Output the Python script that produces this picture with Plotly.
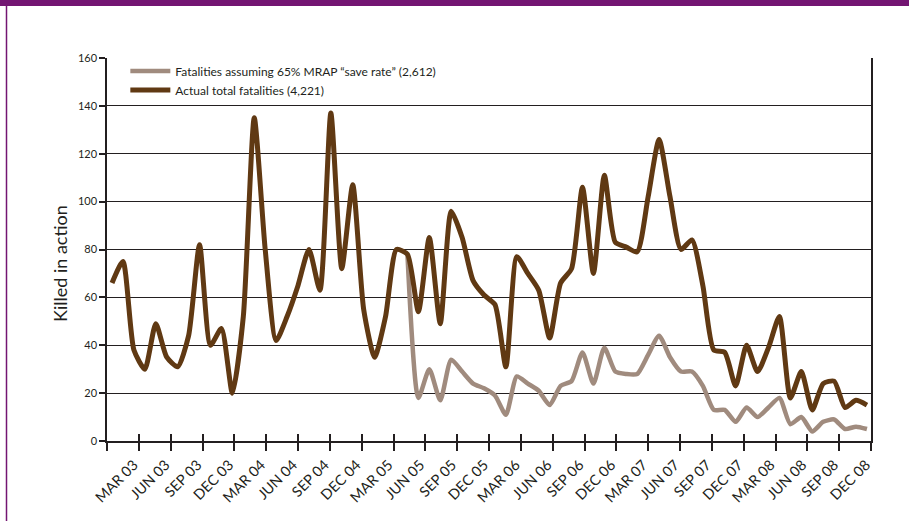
import numpy as np
import plotly.graph_objects as go

# ---- data (monthly, Mar 2003 - Dec 2008) ----
years = ["03", "04", "05", "06", "07", "08"]
month_names = ["JAN", "FEB", "MAR", "APR", "MAY", "JUN", "JUL", "AUG", "SEP", "OCT", "NOV", "DEC"]
months = [f"{m} {y}" for y in years for m in month_names][2:]  # MAR 03 .. DEC 08

actual = [
    66, 75, 38, 30, 49, 35, 31, 44, 82, 40,                    # 2003 Mar-Dec
    47, 20, 52, 135, 80, 42, 52, 65, 80, 63, 137, 72,          # 2004
    107, 55, 35, 52, 80, 78, 54, 85, 49, 96, 85, 67,           # 2005
    61, 57, 31, 77, 70, 63, 43, 66, 72, 106, 70, 111,          # 2006
    83, 81, 79, 102, 126, 102, 80, 84, 65, 38, 37, 23,         # 2007
    40, 29, 39, 52, 18, 29, 13, 24, 25, 14, 17, 15,            # 2008
]
mrap = [None] * 27 + [
    78, 18, 30, 17, 34, 29, 24,                                # 2005 Jun-Dec
    22, 19, 11, 27, 24, 21, 15, 23, 25, 37, 24, 39,            # 2006
    29, 28, 28, 36, 44, 35, 29, 29, 23, 13, 13, 8,             # 2007
    14, 10, 14, 18, 7, 10, 4, 8, 9, 5, 6, 5,                   # 2008
]
tick_labels = ["", "MAR 03", "JUN 03", "SEP 03", "DEC 03", "MAR 04", "JUN 04", "SEP 04", "DEC 04",
               "MAR 05", "JUN 05", "SEP 05", "DEC 05", "MAR 06", "JUN 06", "SEP 06", "DEC 06",
               "MAR 07", "JUN 07", "SEP 07", "DEC 07", "MAR 08", "JUN 08", "SEP 08", "DEC 08"]
name_mrap = "Fatalities assuming 65% MRAP \u201csave rate\u201d (2,612)"
name_actual = "Actual total fatalities (4,221)"
y_title = "Killed in action"

x = list(range(len(months)))
x_range = [-0.46, 69.37]
tick_vals = list(np.linspace(x_range[0], x_range[1], len(tick_labels)))

DARK = "#603913"
LIGHT = "#a08b7e"
PURPLE = "#731572"
INK = "#231f20"
FONT = "Lato, 'Open Sans', sans-serif"

fig = go.Figure()
fig.add_trace(go.Scatter(x=x, y=mrap, mode="lines", name=name_mrap,
                         line=dict(color=LIGHT, width=4.5, shape="spline", smoothing=0.6),
                         customdata=months, hovertemplate="%{customdata}: %{y}<extra></extra>"))
fig.add_trace(go.Scatter(x=x, y=actual, mode="lines", name=name_actual,
                         line=dict(color=DARK, width=5, shape="spline", smoothing=0.6),
                         customdata=months, hovertemplate="%{customdata}: %{y}<extra></extra>"))
# helper trace for the upper half of the crossing x ticks
fig.add_trace(go.Scatter(x=[x_range[0]], y=[0], xaxis="x2", mode="markers",
                         marker=dict(opacity=0), showlegend=False, hoverinfo="skip"))

fig.update_layout(
    width=909, height=521,
    margin=dict(l=107, r=38, t=58, b=80),
    paper_bgcolor="white", plot_bgcolor="white",
    font=dict(family=FONT, size=12, color=INK),
    showlegend=True,
    legend=dict(x=0.024, y=1.004, xanchor="left", yanchor="top", bgcolor="rgba(0,0,0,0)",
                font=dict(size=12, family=FONT), tracegroupgap=0, itemwidth=40),
    xaxis=dict(range=x_range, tickmode="array", tickvals=tick_vals, ticktext=tick_labels,
               tickangle=-45, ticks="outside", ticklen=8, tickwidth=1.5, tickcolor=INK,
               showgrid=False, zeroline=False, showline=True, linecolor=INK, linewidth=1.5,
               tickfont=dict(size=14.5, family=FONT), ticklabelshift=-5),
    xaxis2=dict(range=x_range, overlaying="x", anchor="y", side="bottom", tickmode="array",
                tickvals=tick_vals, showticklabels=False, ticks="inside", ticklen=7,
                tickwidth=1.5, tickcolor=INK, showgrid=False, zeroline=False, showline=False),
    yaxis=dict(range=[0, 160], tickvals=list(range(0, 161, 20)), ticks="outside", ticklen=6,
               tickwidth=1.5, tickcolor=INK, showgrid=True, gridcolor=INK, gridwidth=1.3,
               zeroline=False, showline=True, linecolor=INK, linewidth=1.5, mirror=True,
               tickfont=dict(size=11, family=FONT)),
    annotations=[
        dict(text=y_title, xref="paper", yref="paper", x=(60 - 107) / 764, y=(441 - 264) / 383,
             xanchor="center", yanchor="middle", textangle=-90, showarrow=False,
             font=dict(size=18, family=FONT, color=INK)),
    ],
    shapes=[
        dict(type="rect", xref="paper", yref="paper", x0=-107/764, x1=1 + 38/764,
             y0=1 + 52/383, y1=1 + 58/383, fillcolor=PURPLE, line=dict(width=0), layer="above"),
        dict(type="line", xref="paper", yref="paper", x0=-100.5/764, x1=-100.5/764,
             y0=-80/383, y1=1 + 53/383, line=dict(color=PURPLE, width=1.5)),
    ],
)

fig.write_html("out.html", config={"displayModeBar": False},
               post_script="document.body.style.margin='0';")
